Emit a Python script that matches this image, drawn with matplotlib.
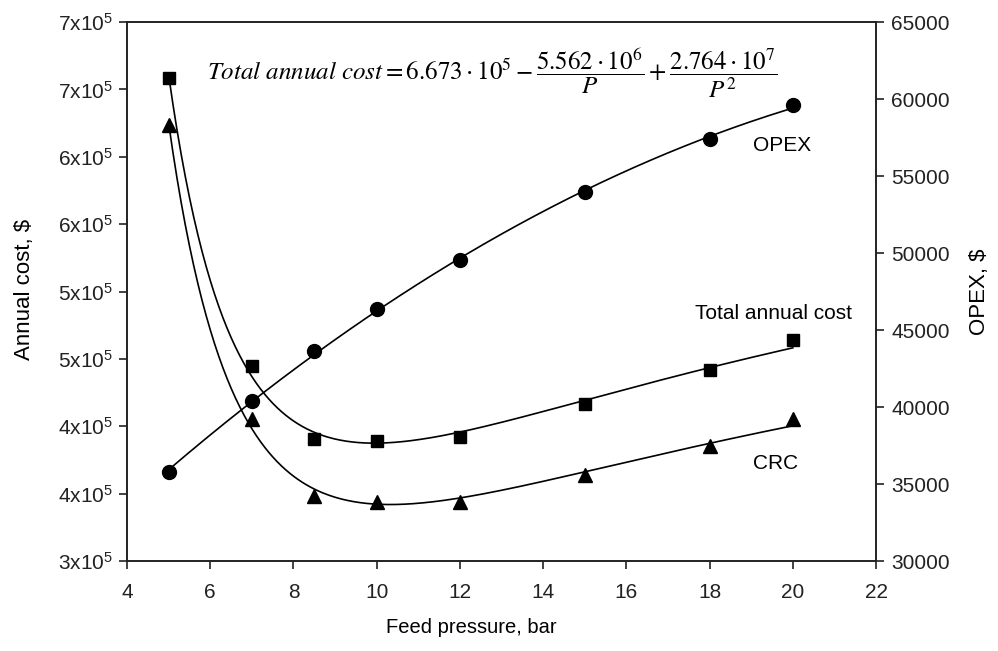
import numpy as np
import matplotlib
matplotlib.use("Agg")
import matplotlib.pyplot as plt
from matplotlib.ticker import FixedLocator, FuncFormatter

plt.rcParams['font.family'] = ['Liberation Sans', 'DejaVu Sans']
plt.rcParams['mathtext.fontset'] = 'stix'

# --- DATA ---
pressure = [5, 7, 8.5, 10, 12, 15, 18, 20]
total_cost = [658700, 444700, 390500, 389300, 391800, 416500, 441700, 464000]
crc = [623200, 405400, 348000, 344000, 344000, 364000, 385600, 405200]
opex = [35760, 40390, 43640, 46345, 49547, 53980, 57385, 59590]

x_ticks = [4, 6, 8, 10, 12, 14, 16, 18, 20, 22]
left_ticks = [300000, 350000, 400000, 450000, 500000, 550000, 600000, 650000, 700000]
right_ticks = [30000, 35000, 40000, 45000, 50000, 55000, 60000, 65000]


def fit_inverse(p, y):
    """Fit y = a + b/P + c/P^2 like the original regression."""
    coef = np.polyfit(1.0 / np.asarray(p), y, 2)
    return lambda q: np.polyval(coef, 1.0 / q)


def left_label(v, pos):
    return r'$\mathregular{%dx10^{5}}$' % int(v / 1e5 + 0.5)


fig = plt.figure(figsize=(9.98, 6.51), dpi=100)
ax = fig.add_axes([0.1273, 0.1382, 0.7505, 0.828])
ax2 = ax.twinx()

p_fine = np.linspace(min(pressure), max(pressure), 300)

# left axis: total annual cost and CRC
f_tot = fit_inverse(pressure, total_cost)
f_crc = fit_inverse(pressure, crc)
ax.plot(p_fine, f_tot(p_fine), color='black', lw=1.2)
ax.plot(p_fine, f_crc(p_fine), color='black', lw=1.2)
ax.plot(pressure, total_cost, 's', color='black', ms=9, ls='none')
ax.plot(pressure, crc, '^', color='black', ms=10, ls='none')

# right axis: OPEX
coef_op = np.polyfit(pressure, opex, 2)
ax2.plot(p_fine, np.polyval(coef_op, p_fine), color='black', lw=1.2)
ax2.plot(pressure, opex, 'o', color='black', ms=10, ls='none')

ax.set_xlim(4, 22)
ax.set_ylim(300000, 700000)
ax2.set_ylim(30000, 65000)
ax.xaxis.set_major_locator(FixedLocator(x_ticks))
ax.yaxis.set_major_locator(FixedLocator(left_ticks))
ax.yaxis.set_major_formatter(FuncFormatter(left_label))
ax2.yaxis.set_major_locator(FixedLocator(right_ticks))

for a in (ax, ax2):
    for s in a.spines.values():
        s.set_linewidth(1.2)
        s.set_color('#222222')
ax.tick_params(axis='both', direction='out', length=6, width=1.2, labelsize=15, colors='#222222')
ax.tick_params(axis='x', pad=10)
ax.tick_params(axis='y', pad=4)
ax2.tick_params(axis='y', direction='out', length=6, width=1.2, labelsize=15, pad=5, colors='#222222')

ax.set_xlabel('Feed pressure, bar', fontsize=14.5)
ax.xaxis.set_label_coords(0.46, -0.106)
ax.set_ylabel('Annual cost, $', fontsize=16)
ax.yaxis.set_label_coords(-0.123, 0.503)
ax2.set_ylabel('OPEX, $', fontsize=16, rotation=90)
ax2.yaxis.set_label_coords(1.124, 0.5)

# curve labels
ax.text(19.74, 608700, 'OPEX', fontsize=15, ha='center', va='center')
ax.text(19.53, 484000, 'Total annual cost', fontsize=15, ha='center', va='center')
ax.text(19.58, 372700, 'CRC', fontsize=15, ha='center', va='center')

eq = (r'$\mathit{Total\ annual\ cost} = 6.673\cdot10^{5} - '
      r'\dfrac{5.562\cdot10^{6}}{P} + \dfrac{2.764\cdot10^{7}}{P^{2}}$')
ax.text(5.92, 662000, eq, fontsize=18, ha='left', va='center')

fig.savefig('out.png', dpi=100)
